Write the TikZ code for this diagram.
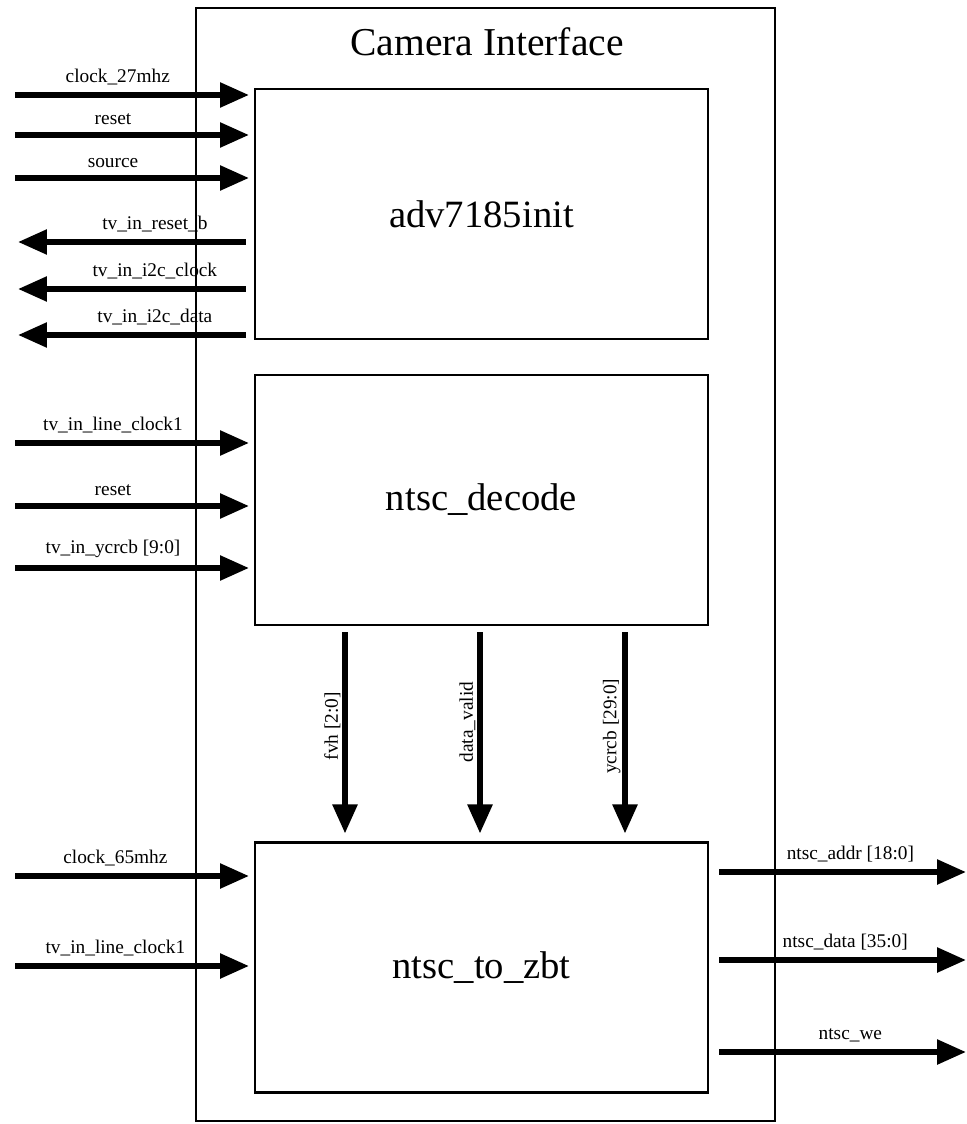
\documentclass[tikz,border=0pt]{standalone}
\usepackage{fontspec}
\setmainfont{Liberation Serif}
\usetikzlibrary{arrows.meta,positioning}

\begin{document}
\begin{tikzpicture}[x=0.02cm,y=-0.02cm,>={Triangle[length=5.8mm,width=4.8mm]},
          blk/.style={draw,line width=1.2pt,minimum width=9.06cm,minimum height=5cm,inner sep=0pt,
            font=\fontsize{22}{24}\selectfont},
          sig/.style={line width=3.2pt},
          lbl/.style={font=\fontsize{11}{12}\selectfont,inner sep=1pt}]
        \useasboundingbox (0,0) rectangle (966,1124);
        \draw[line width=1.4pt] (196,8) rectangle (775,1121);
        \node[font=\fontsize{22.5}{24}\selectfont] (title) at (487,42) {Camera Interface};
        \node[blk] (adv) at (481.5,214) {adv7185init};
        \node[blk] (dec) at (481.5,500) {ntsc\_decode};
        \node[blk] (zbt) at (481.5,967.5) {ntsc\_to\_zbt};
        % adv7185init ports
        \coordinate (a1) at (15,95); \coordinate (a2) at (15,135); \coordinate (a3) at (15,178);
        \coordinate (a4) at (18,242); \coordinate (a5) at (18,289); \coordinate (a6) at (18,335);
        \draw[sig,->,shorten >=0.1cm] (a1)--node[lbl,above=3pt,pos=.43]{clock\_27mhz}(a1 -| adv.west);
        \draw[sig,->,shorten >=0.1cm] (a2)--node[lbl,above=3pt,pos=.41]{reset}(a2 -| adv.west);
        \draw[sig,->,shorten >=0.1cm] (a3)--node[lbl,above=3pt,pos=.41]{source}(a3 -| adv.west);
        \draw[sig,->,shorten <=0.16cm] (a4 -| adv.west)--node[lbl,above=3pt,pos=.42]{tv\_in\_reset\_b}(a4);
        \draw[sig,->,shorten <=0.16cm] (a5 -| adv.west)--node[lbl,above=3pt,pos=.42]{tv\_in\_i2c\_clock}(a5);
        \draw[sig,->,shorten <=0.16cm] (a6 -| adv.west)--node[lbl,above=3pt,pos=.42]{tv\_in\_i2c\_data}(a6);
        % ntsc_decode ports
        \coordinate (d1) at (15,443); \coordinate (d2) at (15,506); \coordinate (d3) at (15,568);
        \draw[sig,->,shorten >=0.1cm] (d1)--node[lbl,above=3pt,pos=.41]{tv\_in\_line\_clock1}(d1 -| dec.west);
        \draw[sig,->,shorten >=0.1cm] (d2)--node[lbl,above=3pt,pos=.41]{reset}(d2 -| dec.west);
        \draw[sig,->,shorten >=0.1cm] (d3)--node[lbl,above=3pt,pos=.41]{tv\_in\_ycrcb [9:0]}(d3 -| dec.west);
        % decode to zbt
        \coordinate (f1) at (345,632); \coordinate (f2) at (480,632); \coordinate (f3) at (625,632);
        \draw[sig,->,shorten >=0.16cm] (f1)--node[lbl,rotate=90,above=6pt,pos=.5]{fvh [2:0]}(f1 |- zbt.north);
        \draw[sig,->,shorten >=0.16cm] (f2)--node[lbl,rotate=90,above=6pt,pos=.48]{data\_valid}(f2 |- zbt.north);
        \draw[sig,->,shorten >=0.16cm] (f3)--node[lbl,rotate=90,above=6pt,pos=.5]{ycrcb [29:0]}(f3 |- zbt.north);
        % ntsc_to_zbt ports
        \coordinate (z1) at (15,876); \coordinate (z2) at (15,966);
        \coordinate (r1) at (966,872); \coordinate (r2) at (966,960); \coordinate (r3) at (966,1052);
        \draw[sig,->,shorten >=0.1cm] (z1)--node[lbl,above=3pt,pos=.42]{clock\_65mhz}(z1 -| zbt.west);
        \draw[sig,->,shorten >=0.1cm] (z2)--node[lbl,above=3pt,pos=.42]{tv\_in\_line\_clock1}(z2 -| zbt.west);
        \draw[sig,->,shorten <=0.2cm] (r1 -| zbt.east)--node[lbl,above=3pt,pos=.55]{ntsc\_addr [18:0]}(r1);
        \draw[sig,->,shorten <=0.2cm] (r2 -| zbt.east)--node[lbl,above=3pt,pos=.53]{ntsc\_data [35:0]}(r2);
        \draw[sig,->,shorten <=0.2cm] (r3 -| zbt.east)--node[lbl,above=3pt,pos=.55]{ntsc\_we}(r3);
      \end{tikzpicture}
\end{document}
